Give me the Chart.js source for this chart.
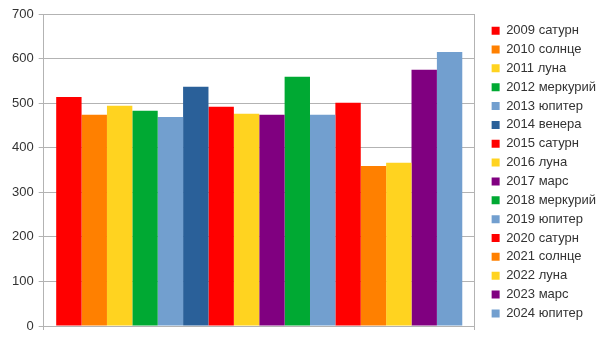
<!DOCTYPE html>
<html>
<head>
<meta charset="utf-8">
<script src="https://cdn.jsdelivr.net/npm/chart.js@4/dist/chart.umd.min.js"></script>
<style>
  html, body { margin: 0; padding: 0; background: #fff; }
  #wrap { width: 606px; height: 341px; }
</style>
</head>
<body>
<div id="wrap"><canvas id="chart"></canvas></div>
<script>
// data
const years = ['2009', '2010', '2011', '2012', '2013', '2014', '2015', '2016', '2017', '2018', '2019', '2020', '2021', '2022', '2023', '2024'];
const names = ['сатурн', 'солнце', 'луна', 'меркурий', 'юпитер', 'венера', 'сатурн', 'луна', 'марс', 'меркурий', 'юпитер', 'сатурн', 'солнце', 'луна', 'марс', 'юпитер'];
const values = [514, 474, 494, 483, 469, 537, 492, 476, 474, 559, 474, 501, 359, 366, 575, 615];
const yTicks = [0, 100, 200, 300, 400, 500, 600, 700];

// one colour per planet
const planetColors = {
  'сатурн': '#ff0000',
  'солнце': '#ff8000',
  'луна': '#ffd320',
  'меркурий': '#00a933',
  'юпитер': '#729fcf',
  'венера': '#2a6099',
  'марс': '#800080'
};

const gridColor = '#b3b3b3';
const textColor = '#333333';
Chart.defaults.font.family = '"Liberation Sans", Arial, sans-serif';
Chart.defaults.font.size = 13;
Chart.defaults.color = textColor;

const datasets = years.map((y, i) => ({
  label: y + ' ' + names[i],
  data: [values[i]],
  backgroundColor: planetColors[names[i]],
  borderWidth: 0
}));

new Chart(document.getElementById('chart'), {
  type: 'bar',
  data: { labels: [''], datasets },
  options: {
    responsive: true,
    maintainAspectRatio: false,
    animation: false,
    layout: { padding: { top: 14, left: 7, bottom: 11, right: 0 } },
    datasets: { bar: { categoryPercentage: 0.942, barPercentage: 1 } },
    plugins: {
      tooltip: { enabled: false },
      legend: {
        position: 'right',
        maxWidth: 200,
        labels: { boxWidth: 8, boxHeight: 8, padding: 5.85, color: textColor }
      }
    },
    scales: {
      x: {
        offset: true,
        ticks: { display: false },
        grid: { display: true, offset: true, color: gridColor, tickLength: 4, drawOnChartArea: true },
        border: { display: false }
      },
      y: {
        min: 0,
        max: 700,
        afterBuildTicks: s => { s.ticks = yTicks.map(v => ({ value: v })); },
        ticks: { padding: 5, color: textColor },
        grid: { color: gridColor, tickLength: 5 },
        border: { color: gridColor }
      },
      // empty spacer between plot and legend
      gap: {
        position: 'right',
        display: true,
        ticks: { display: false },
        grid: { display: false },
        border: { display: false },
        afterFit: s => { s.width = 11; }
      }
    }
  }
});
</script>
</body>
</html>
